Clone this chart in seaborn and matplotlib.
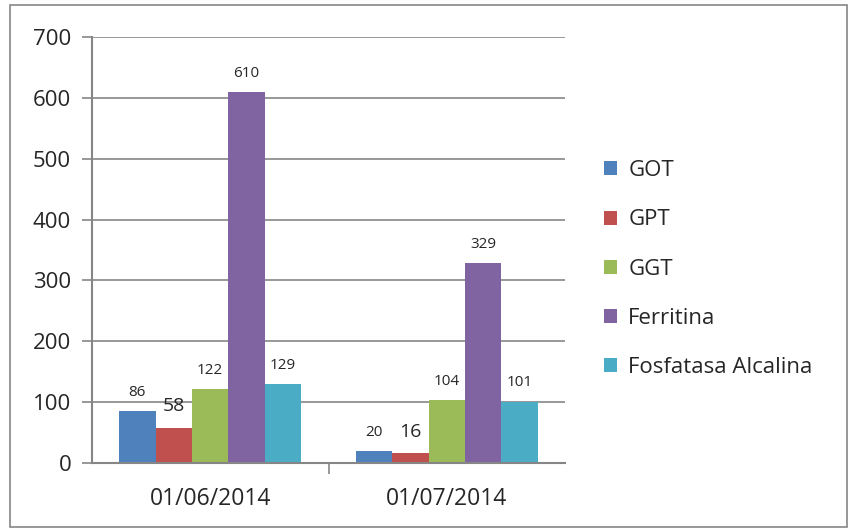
import pandas as pd
import matplotlib.pyplot as plt
import seaborn as sns
from matplotlib.patches import Rectangle

# data
fechas = ['01/06/2014', '01/07/2014']
series = ['GOT', 'GPT', 'GGT', 'Ferritina', 'Fosfatasa Alcalina']
got = [86, 20]
gpt = [58, 16]
ggt = [122, 104]
ferritina = [610, 329]
fosfatasa = [129, 101]

colores = ['#4F81BD', '#C0504D', '#9BBB59', '#8064A2', '#4BACC6']

rows = []
for nombre, vals in zip(series, [got, gpt, ggt, ferritina, fosfatasa]):
    for f, v in zip(fechas, vals):
        rows.append({'fecha': f, 'serie': nombre, 'valor': v})
df = pd.DataFrame(rows)

sns.set_style('white')
plt.rcParams['font.family'] = ['Open Sans', 'DejaVu Sans']

fig = plt.figure(figsize=(8.51, 5.29), dpi=100)
ax = fig.add_axes([92/851, 1 - 463/529, 473/851, 426/529])

sns.barplot(data=df, x='fecha', y='valor', hue='serie', order=fechas,
            hue_order=series, palette=colores, width=0.77, saturation=1,
            edgecolor='none', ax=ax)

# data labels (GPT labels are larger in the original)
big = {'GPT'}
for cont, nombre in zip(ax.containers, series):
    ax.bar_label(cont, labels=[str(int(v)) for v in cont.datavalues],
                 padding=8 if nombre not in big else 9,
                 fontsize=11 if nombre not in big else 14)

ax.set_ylim(0, 700)
ax.set_yticks(range(0, 701, 100))
ax.set_xlim(-0.5, 1.5)
ax.set_xlabel('')
ax.set_ylabel('')
ax.yaxis.grid(True, color='#868686', linewidth=1.2)
ax.set_axisbelow(True)
for s in ['top', 'right']:
    ax.spines[s].set_visible(False)
for s in ['left', 'bottom']:
    ax.spines[s].set_color('#868686')
    ax.spines[s].set_linewidth(1.5)
ax.tick_params(axis='y', which='both', left=True, length=7, color='#868686',
               width=1.2, labelsize=16, pad=8)
ax.tick_params(axis='x', length=0, labelsize=16.5, pad=17)
# minor tick between categories
ax.set_xticks([0.5], minor=True)
ax.tick_params(axis='x', which='minor', bottom=True, length=8, color='#868686', width=1.2)

leg = ax.legend(loc='center left', bbox_to_anchor=(1.04, 0.455), frameon=False,
                fontsize=16, handlelength=0.6, handleheight=0.6,
                labelspacing=1.27, handletextpad=0.5)

# outer chart border
fig.patches.append(Rectangle((10/851, 1 - 527/529), 837/851, 522/529,
                             transform=fig.transFigure, fill=False,
                             edgecolor='#868686', linewidth=1.2))

fig.savefig('out.png', dpi=100)
